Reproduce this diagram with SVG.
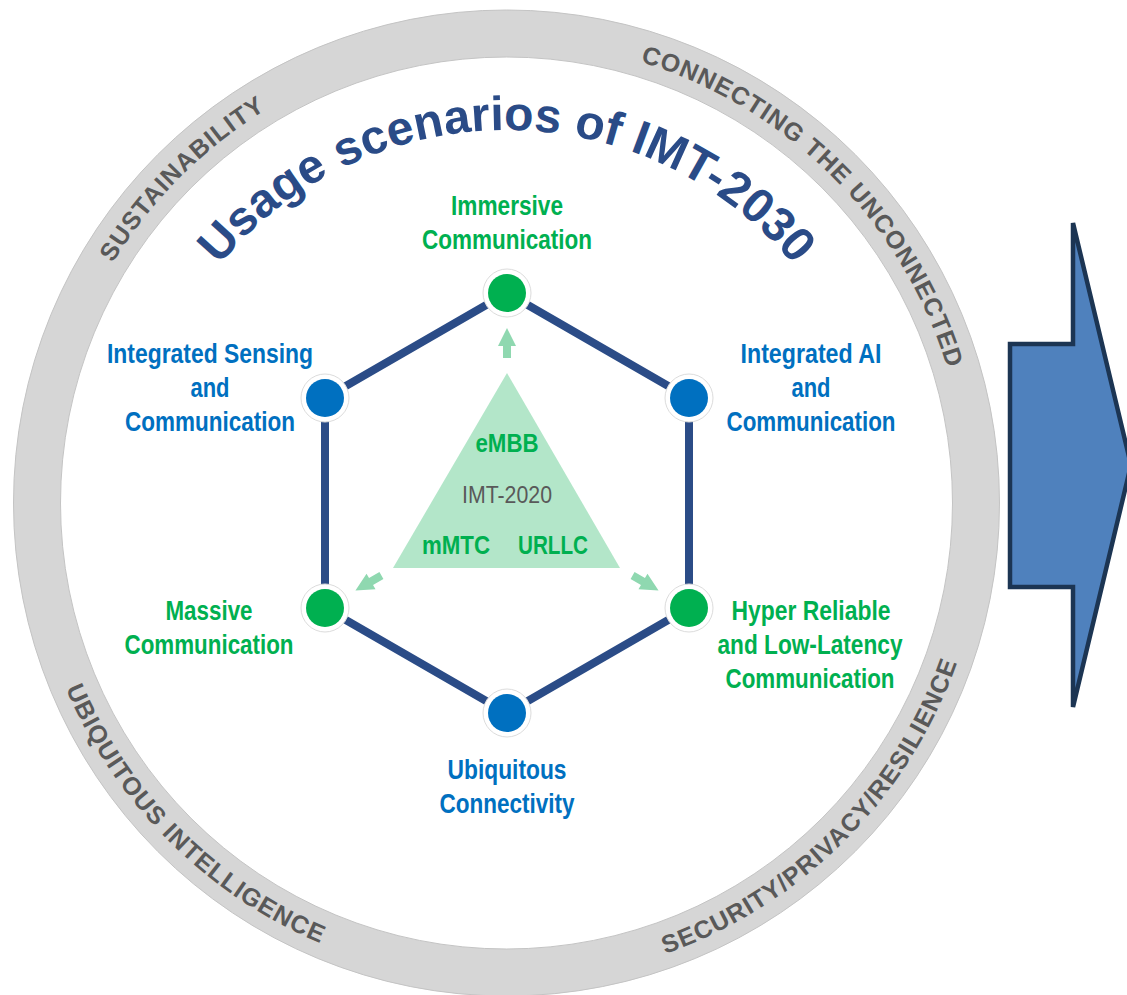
<svg xmlns="http://www.w3.org/2000/svg" xmlns:xlink="http://www.w3.org/1999/xlink" width="1127" height="995" viewBox="0 0 1127 995">
<style>
.ring{fill:none;stroke:#d6d6d6;stroke-width:47}
.ringedge{fill:none;stroke:#c4c4c4;stroke-width:1}
.ringtxt{font-family:"Liberation Sans",Arial,sans-serif;font-weight:bold;font-size:25px;fill:#595959;letter-spacing:1px}
.title{font-family:"Liberation Sans","Open Sans",Arial,sans-serif;font-weight:bold;font-size:48px;fill:#2a4b87}
.lbl{font-family:"Liberation Sans",Arial,sans-serif;font-weight:bold;font-size:28px;text-anchor:middle}
.blue{fill:#0070c0}
.green{fill:#00b050}
.hex{fill:none;stroke:#2b4c87;stroke-width:8;stroke-linejoin:round}
.halo{fill:#ffffff;stroke:#dcdcdc;stroke-width:1}
.tri{fill:#b3e6c9}
.tg{font-family:"Liberation Sans",Arial,sans-serif;font-weight:bold;font-size:26px;fill:#00b050;text-anchor:middle}
.tgray{font-family:"Liberation Sans",Arial,sans-serif;font-size:24px;fill:#595959;text-anchor:middle}
.sarrow{fill:#8fd8b0}
</style>
<defs>
<path id="pSust" d="M 45.5 503 A 461 461 0 0 1 506.5 42"/>
<path id="pConn" d="M 506.5 42 A 461 461 0 0 1 967.5 503"/>
<path id="pUbiq" d="M 28.5 503 A 478 478 0 0 0 506.5 981"/>
<path id="pSec" d="M 506.5 981 A 478 478 0 0 0 984.5 503"/>
<path id="pTitle" d="M 133.5 503 A 373 373 0 0 1 879.5 503"/>
<polygon id="upArrow" points="507,328 516,346 511,346 511,358 503,358 503,346 498,346"/>
</defs>

<g id="ring">
<circle class="ring" cx="506.5" cy="503" r="469.5"/>
<circle class="ringedge" cx="506.5" cy="503" r="493"/>
<circle class="ringedge" cx="506.5" cy="503" r="446"/>
<text class="ringtxt"><textPath xlink:href="#pSust" href="#pSust" startOffset="50%" text-anchor="middle">SUSTAINABILITY</textPath></text>
<text class="ringtxt"><textPath xlink:href="#pConn" href="#pConn" startOffset="50%" text-anchor="middle">CONNECTING THE UNCONNECTED</textPath></text>
<text class="ringtxt"><textPath xlink:href="#pUbiq" href="#pUbiq" startOffset="50%" text-anchor="middle">UBIQUITOUS INTELLIGENCE</textPath></text>
<text class="ringtxt"><textPath xlink:href="#pSec" href="#pSec" startOffset="50%" text-anchor="middle">SECURITY/PRIVACY/RESILIENCE</textPath></text>
</g>

<g id="title">
<text class="title"><textPath xlink:href="#pTitle" href="#pTitle" startOffset="50%" text-anchor="middle">Usage scenarios of IMT-2030</textPath></text>
</g>

<g id="connectors">
<polygon class="hex" points="507,293 689,398 689,608 507,713 325,608 325,398"/>
</g>

<g id="imt2020">
<polygon class="tri" points="507,373 620,568 393,568"/>
<text class="tg" x="507" y="452" textLength="63" lengthAdjust="spacingAndGlyphs">eMBB</text>
<text class="tgray" x="507" y="503" textLength="90" lengthAdjust="spacingAndGlyphs">IMT-2020</text>
<text class="tg" x="456" y="554" textLength="68" lengthAdjust="spacingAndGlyphs">mMTC</text>
<text class="tg" x="553" y="554" textLength="70" lengthAdjust="spacingAndGlyphs">URLLC</text>
<use href="#upArrow" xlink:href="#upArrow" class="sarrow"/>
<use href="#upArrow" xlink:href="#upArrow" class="sarrow" transform="rotate(120 507 503)"/>
<use href="#upArrow" xlink:href="#upArrow" class="sarrow" transform="rotate(240 507 503)"/>
</g>

<g id="node-immersive">
<circle class="halo" cx="507" cy="293" r="24"/>
<circle class="green" cx="507" cy="293" r="19"/>
<text class="lbl green" x="507" y="215" textLength="112" lengthAdjust="spacingAndGlyphs">Immersive</text>
<text class="lbl green" x="507" y="249" textLength="170" lengthAdjust="spacingAndGlyphs">Communication</text>
</g>

<g id="node-ai">
<circle class="halo" cx="689" cy="398" r="24"/>
<circle class="blue" cx="689" cy="398" r="19"/>
<text class="lbl blue" x="811" y="363" textLength="141" lengthAdjust="spacingAndGlyphs">Integrated AI</text>
<text class="lbl blue" x="811" y="397" textLength="39" lengthAdjust="spacingAndGlyphs">and</text>
<text class="lbl blue" x="811" y="431" textLength="169" lengthAdjust="spacingAndGlyphs">Communication</text>
</g>

<g id="node-hrllc">
<circle class="halo" cx="689" cy="608" r="24"/>
<circle class="green" cx="689" cy="608" r="19"/>
<text class="lbl green" x="811" y="620" textLength="159" lengthAdjust="spacingAndGlyphs">Hyper Reliable</text>
<text class="lbl green" x="810" y="654" textLength="185" lengthAdjust="spacingAndGlyphs">and Low-Latency</text>
<text class="lbl green" x="810" y="688" textLength="169" lengthAdjust="spacingAndGlyphs">Communication</text>
</g>

<g id="node-ubiquitous">
<circle class="halo" cx="507" cy="713" r="24"/>
<circle class="blue" cx="507" cy="713" r="19"/>
<text class="lbl blue" x="507" y="779" textLength="119" lengthAdjust="spacingAndGlyphs">Ubiquitous</text>
<text class="lbl blue" x="507" y="813" textLength="135" lengthAdjust="spacingAndGlyphs">Connectivity</text>
</g>

<g id="node-massive">
<circle class="halo" cx="325" cy="608" r="24"/>
<circle class="green" cx="325" cy="608" r="19"/>
<text class="lbl green" x="209" y="620" textLength="87" lengthAdjust="spacingAndGlyphs">Massive</text>
<text class="lbl green" x="209" y="654" textLength="169" lengthAdjust="spacingAndGlyphs">Communication</text>
</g>

<g id="node-sensing">
<circle class="halo" cx="325" cy="398" r="24"/>
<circle class="blue" cx="325" cy="398" r="19"/>
<text class="lbl blue" x="210" y="363" textLength="206" lengthAdjust="spacingAndGlyphs">Integrated Sensing</text>
<text class="lbl blue" x="210" y="397" textLength="39" lengthAdjust="spacingAndGlyphs">and</text>
<text class="lbl blue" x="210" y="431" textLength="170" lengthAdjust="spacingAndGlyphs">Communication</text>
</g>

<g id="big-arrow">
<polygon points="1010,344 1073,344 1073,223 1131,465 1073,707 1073,587 1010,587" fill="#4f81bd" stroke="#1c3553" stroke-width="4.5" stroke-linejoin="miter"/>
</g>
</svg>
